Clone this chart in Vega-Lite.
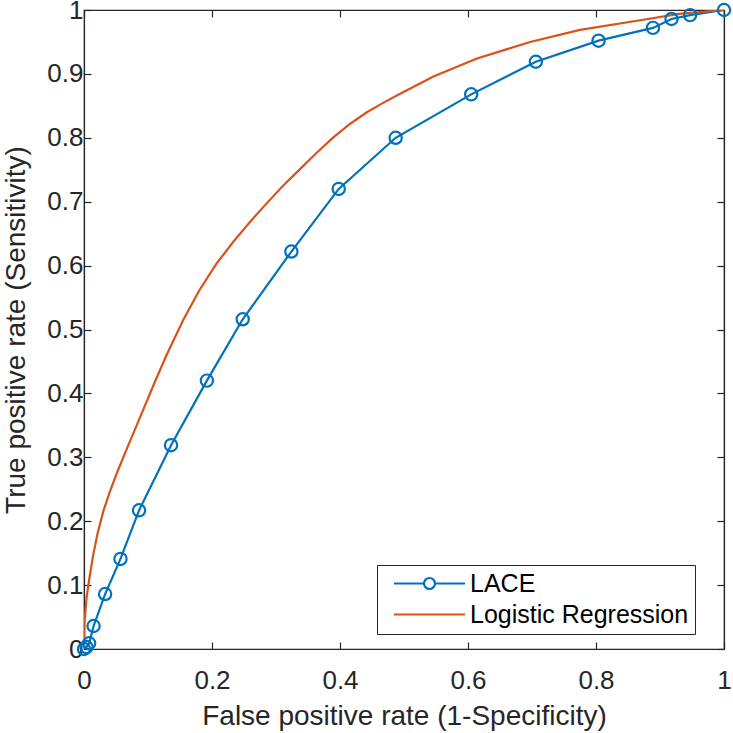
{
  "$schema": "https://vega.github.io/schema/vega-lite/v6.json",
  "width": 640,
  "height": 639,
  "autosize": {"type": "none"},
  "padding": {"left": 84, "top": 10, "right": 9, "bottom": 84},
  "background": "white",
  "config": {
    "font": "Liberation Sans",
    "view": {"stroke": "#262626", "strokeWidth": 1.2},
    "axis": {
      "grid": false,
      "domainColor": "#262626",
      "tickColor": "#262626",
      "labelColor": "#262626",
      "titleColor": "#262626",
      "labelFont": "Liberation Sans",
      "titleFont": "Liberation Sans",
      "labelFontSize": 26,
      "titleFontSize": 28,
      "titleFontWeight": "normal",
      "labelFlush": false,
      "labelOverlap": false,
      "tickSize": -7,
      "tickWidth": 1.2,
      "domainWidth": 1.2
    },
    "axisTop": {"labels": false, "labelOpacity": 0, "titleOpacity": 0},
    "axisRight": {"labels": false, "labelOpacity": 0, "titleOpacity": 0}
  },
  "data": {
    "values": [
      {"series": "LACE", "fpr": 0, "tpr": 0},
      {"series": "LACE", "fpr": 0.004, "tpr": 0.003},
      {"series": "LACE", "fpr": 0.008, "tpr": 0.009},
      {"series": "LACE", "fpr": 0.015, "tpr": 0.036},
      {"series": "LACE", "fpr": 0.033, "tpr": 0.086},
      {"series": "LACE", "fpr": 0.057, "tpr": 0.141},
      {"series": "LACE", "fpr": 0.086, "tpr": 0.217},
      {"series": "LACE", "fpr": 0.136, "tpr": 0.319},
      {"series": "LACE", "fpr": 0.192, "tpr": 0.42},
      {"series": "LACE", "fpr": 0.248, "tpr": 0.516},
      {"series": "LACE", "fpr": 0.324, "tpr": 0.622},
      {"series": "LACE", "fpr": 0.398, "tpr": 0.72},
      {"series": "LACE", "fpr": 0.487, "tpr": 0.8},
      {"series": "LACE", "fpr": 0.605, "tpr": 0.868},
      {"series": "LACE", "fpr": 0.706, "tpr": 0.919},
      {"series": "LACE", "fpr": 0.804, "tpr": 0.952},
      {"series": "LACE", "fpr": 0.889, "tpr": 0.972},
      {"series": "LACE", "fpr": 0.918, "tpr": 0.986},
      {"series": "LACE", "fpr": 0.947, "tpr": 0.992},
      {"series": "LACE", "fpr": 1, "tpr": 1},
      {"series": "Logistic Regression", "fpr": 0, "tpr": 0},
      {"series": "Logistic Regression", "fpr": 0.001, "tpr": 0.045},
      {"series": "Logistic Regression", "fpr": 0.004, "tpr": 0.08},
      {"series": "Logistic Regression", "fpr": 0.008, "tpr": 0.108},
      {"series": "Logistic Regression", "fpr": 0.014, "tpr": 0.145},
      {"series": "Logistic Regression", "fpr": 0.021, "tpr": 0.18},
      {"series": "Logistic Regression", "fpr": 0.03, "tpr": 0.215},
      {"series": "Logistic Regression", "fpr": 0.04, "tpr": 0.245},
      {"series": "Logistic Regression", "fpr": 0.052, "tpr": 0.277},
      {"series": "Logistic Regression", "fpr": 0.068, "tpr": 0.316},
      {"series": "Logistic Regression", "fpr": 0.089, "tpr": 0.366},
      {"series": "Logistic Regression", "fpr": 0.109, "tpr": 0.414},
      {"series": "Logistic Regression", "fpr": 0.129, "tpr": 0.46},
      {"series": "Logistic Regression", "fpr": 0.155, "tpr": 0.515},
      {"series": "Logistic Regression", "fpr": 0.18, "tpr": 0.561},
      {"series": "Logistic Regression", "fpr": 0.207, "tpr": 0.603},
      {"series": "Logistic Regression", "fpr": 0.233, "tpr": 0.637},
      {"series": "Logistic Regression", "fpr": 0.259, "tpr": 0.668},
      {"series": "Logistic Regression", "fpr": 0.285, "tpr": 0.697},
      {"series": "Logistic Regression", "fpr": 0.311, "tpr": 0.725},
      {"series": "Logistic Regression", "fpr": 0.3375, "tpr": 0.751},
      {"series": "Logistic Regression", "fpr": 0.364, "tpr": 0.777},
      {"series": "Logistic Regression", "fpr": 0.39, "tpr": 0.801},
      {"series": "Logistic Regression", "fpr": 0.416, "tpr": 0.822},
      {"series": "Logistic Regression", "fpr": 0.442, "tpr": 0.84},
      {"series": "Logistic Regression", "fpr": 0.468, "tpr": 0.855},
      {"series": "Logistic Regression", "fpr": 0.494, "tpr": 0.869},
      {"series": "Logistic Regression", "fpr": 0.546, "tpr": 0.896},
      {"series": "Logistic Regression", "fpr": 0.614, "tpr": 0.924},
      {"series": "Logistic Regression", "fpr": 0.697, "tpr": 0.95},
      {"series": "Logistic Regression", "fpr": 0.775, "tpr": 0.969},
      {"series": "Logistic Regression", "fpr": 0.869, "tpr": 0.984},
      {"series": "Logistic Regression", "fpr": 0.93, "tpr": 0.994},
      {"series": "Logistic Regression", "fpr": 1, "tpr": 1}
    ]
  },
  "layer": [
    {
      "mark": {"type": "line", "strokeWidth": 2.2, "clip": true},
      "encoding": {
        "x": {
          "field": "fpr", "type": "quantitative",
          "scale": {"domain": [0, 1], "nice": false},
          "axis": {"title": "False positive rate (1-Specificity)", "values": [0, 0.2, 0.4, 0.6, 0.8, 1], "format": "~g", "labelPadding": 25, "titlePadding": 9, "labelFlush": false}
        },
        "y": {
          "field": "tpr", "type": "quantitative",
          "scale": {"domain": [0, 1], "nice": false},
          "axis": {"title": "True positive rate (Sensitivity)", "values": [0, 0.1, 0.2, 0.3, 0.4, 0.5, 0.6, 0.7, 0.8, 0.9, 1], "format": "~g", "labelPadding": 8, "titlePadding": 16, "labelFlush": false}
        },
        "color": {
          "field": "series", "type": "nominal",
          "scale": {"domain": ["LACE", "Logistic Regression"], "range": ["#0072BD", "#D95319"]},
          "legend": {
            "title": null,
            "orient": "none",
            "legendX": 293,
            "legendY": 555,
            "direction": "vertical",
            "strokeColor": "#262626",
            "fillColor": "white",
            "padding": 6,
            "rowPadding": 5,
            "labelFontSize": 25,
            "labelColor": "#000000",
            "labelFont": "Liberation Sans",
            "labelLimit": 0,
            "labelOffset": 28,
            "symbolOffset": 34,
            "symbolSize": 400,
            "symbolStrokeWidth": 2.2,
            "symbolFillColor": "transparent",
            "encode": {
              "symbols": {
                "update": {
                  "shape": {"signal": "datum.value === 'LACE' ? 'M-3.55,0H-0.55M0.55,0H3.55M0.55,0A0.55,0.55 0 1,1 -0.55,0A0.55,0.55 0 1,1 0.55,0' : 'M-3.55,0H3.55'"},
                  "fill": {"value": "transparent"}
                }
              }
            }
          }
        }
      }
    },
    {
      "transform": [{"filter": "datum.series === 'LACE'"}],
      "mark": {"type": "point", "shape": "circle", "filled": false, "size": 150, "strokeWidth": 2.2, "color": "#0072BD", "opacity": 1},
      "encoding": {
        "x": {"field": "fpr", "type": "quantitative", "axis": {"orient": "top", "labels": false, "title": null, "values": [0, 0.2, 0.4, 0.6, 0.8, 1]}},
        "y": {"field": "tpr", "type": "quantitative", "axis": {"orient": "right", "labels": false, "title": null, "values": [0, 0.1, 0.2, 0.3, 0.4, 0.5, 0.6, 0.7, 0.8, 0.9, 1]}}
      }
    }
  ],
  "resolve": {"axis": {"x": "independent", "y": "independent"}}
}
